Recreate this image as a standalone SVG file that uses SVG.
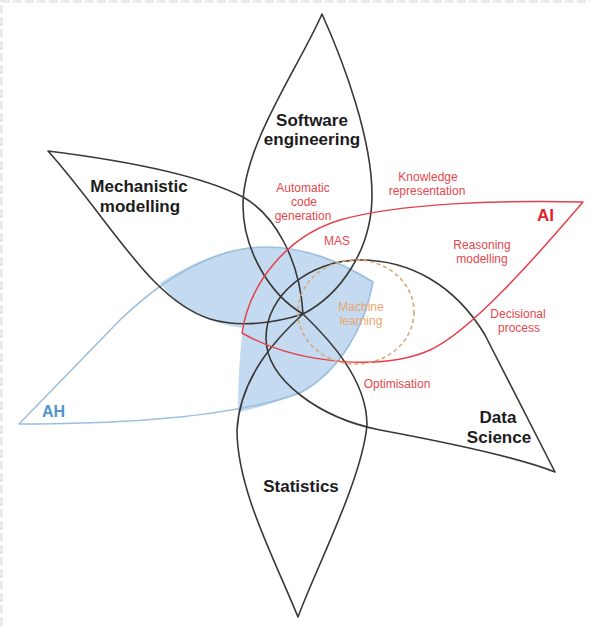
<svg xmlns="http://www.w3.org/2000/svg" width="590" height="626" viewBox="0 0 590 626">
  <style>
    .petal { fill: none; stroke: #383838; stroke-width: 1.6; stroke-linejoin: round; }
    .ah-fill { fill: #c4daf0; stroke: none; }
    .ah-line { fill: none; stroke: #9cbfe0; stroke-width: 1.6; stroke-linejoin: round; }
    .ai-line { fill: none; stroke: #e5414b; stroke-width: 1.5; stroke-linejoin: round; }
    .ml-line { fill: none; stroke: #dda77a; stroke-width: 1.6; stroke-dasharray: 4 3; }
    .frame { fill: none; stroke: #ebebeb; stroke-width: 3; stroke-dasharray: 9 3; }
    .big { font-family: "Liberation Sans", Arial, sans-serif; font-size: 17px; font-weight: bold; fill: #1c1c1c; text-anchor: middle; }
    .red { font-family: "Liberation Sans", Arial, sans-serif; font-size: 12px; fill: #e5474e; text-anchor: middle; }
    .ml { font-family: "Liberation Sans", Arial, sans-serif; font-size: 12px; fill: #eca66c; text-anchor: middle; }
  </style>

  <rect width="590" height="626" fill="#ffffff"/>
  <!-- light dashed frame on the top and left edges -->
  <path class="frame" d="M1.5 626 L1.5 1.5 L590 1.5"/>

  <!-- AH: shaded core and outline -->
  <g id="ah">
    <path class="ah-fill" d="M160 283 C200 258 232 247 265 247 C310 247 345 265 373 282 C365 325 342 370 300 393 C280 401 260 408 238 412 C238 380 240 350 243 328 C228 326 214 322 203 317 C185 308 170 297 160 283 Z"/>
    <path class="ah-line" d="M19 424 L120 320 C170 272 220 247 265 247 C310 247 345 265 373 282 C365 325 342 370 300 393 C230 418 120 424 19 424 Z"/>
    <text x="42" y="417" style="font-family:'Liberation Sans',Arial,sans-serif;font-size:16px;font-weight:bold;fill:#5592cf">AH</text>
  </g>

  <!-- black discipline petals -->
  <g id="software-engineering">
    <path class="petal" d="M322 14 C300 65 243 145 243 205 C243 250 270 295 303 314 C340 295 372 250 372 195 C372 140 345 65 322 14 Z"/>
    <text class="big" x="312" y="126">Software</text>
    <text class="big" x="312" y="145">engineering</text>
  </g>

  <g id="mechanistic-modelling">
    <path class="petal" d="M48 151 C120 160 200 175 243 197 C275 215 300 260 303 314 C275 323 240 328 210 319 C150 300 110 220 48 151 Z"/>
    <text class="big" x="139" y="192">Mechanistic</text>
    <text class="big" x="140" y="212">modelling</text>
  </g>

  <g id="statistics">
    <path class="petal" d="M303 314 C280 335 240 375 237 430 C237 490 275 560 298 617 C315 570 362 480 367 425 C367 380 330 340 303 314 Z"/>
    <text class="big" x="301" y="492">Statistics</text>
  </g>

  <g id="data-science">
    <path class="petal" d="M555 472 L485 335 C455 285 410 260 360 260 C310 260 266 295 266 338 C266 380 320 418 380 430 C450 443 520 458 555 472 Z"/>
    <text class="big" x="498" y="423">Data</text>
    <text class="big" x="499" y="443">Science</text>
  </g>

  <!-- AI region with its sub-topics -->
  <g id="ai">
    <path class="ai-line" d="M583 202 C500 200 400 203 340 220 C290 235 250 280 242 333 C300 366 385 370 430 350 C470 332 535 258 583 202 Z"/>
    <text x="537" y="221" style="font-family:'Liberation Sans',Arial,sans-serif;font-size:17px;font-weight:bold;fill:#e3232c">AI</text>
    <text class="red" x="303" y="192">Automatic</text>
    <text class="red" x="304" y="206">code</text>
    <text class="red" x="303" y="220">generation</text>
    <text class="red" x="428" y="181">Knowledge</text>
    <text class="red" x="427" y="195">representation</text>
    <text class="red" x="337" y="245">MAS</text>
    <text class="red" x="482" y="249">Reasoning</text>
    <text class="red" x="482" y="263">modelling</text>
    <text class="red" x="518" y="318">Decisional</text>
    <text class="red" x="519" y="332">process</text>
    <text class="red" x="397" y="388">Optimisation</text>
  </g>

  <g id="machine-learning">
    <ellipse class="ml-line" cx="356" cy="312" rx="58" ry="52"/>
    <text class="ml" x="361" y="311">Machine</text>
    <text class="ml" x="361" y="325">learning</text>
  </g>
</svg>
